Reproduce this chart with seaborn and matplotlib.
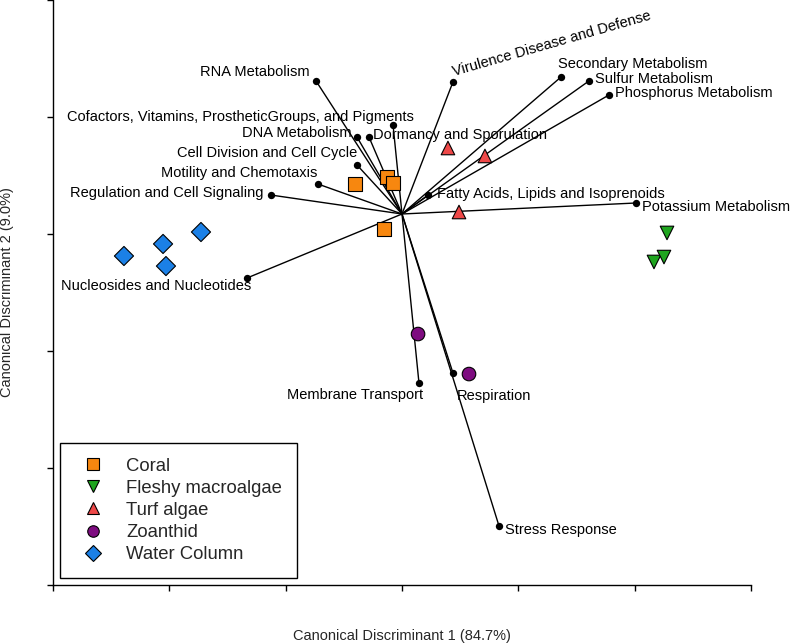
import numpy as np
import pandas as pd
import matplotlib
matplotlib.use("Agg")
import matplotlib.pyplot as plt
import seaborn as sns

# sample scores on the two canonical axes (tick units)
groups = ["Coral", "Fleshy macroalgae", "Turf algae", "Zoanthid", "Water Column"]
coral_x = [-0.404, -0.129, -0.077, -0.155]
coral_y = [0.427, 0.487, 0.436, 0.043]
fleshy_x = [2.278, 2.166, 2.252]
fleshy_y = [0.009, -0.239, -0.197]
turf_x = [0.395, 0.713, 0.490]
turf_y = [0.735, 0.667, 0.188]
zoanthid_x = [0.138, 0.576]
zoanthid_y = [-0.855, -1.197]
water_x = [-2.390, -2.054, -1.728, -2.029]
water_y = [-0.188, -0.085, 0.017, -0.274]

# functional category vectors (tips), all drawn from a common centre
origin = (0.0, 0.171)
categories = [
    "RNA Metabolism",
    "Cofactors, Vitamins, ProstheticGroups, and Pigments",
    "DNA Metabolism",
    "Dormancy and Sporulation",
    "Cell Division and Cell Cycle",
    "Motility and Chemotaxis",
    "Regulation and Cell Signaling",
    "Nucleosides and Nucleotides",
    "Virulence Disease and Defense",
    "Secondary Metabolism",
    "Sulfur Metabolism",
    "Phosphorus Metabolism",
    "Fatty Acids, Lipids and Isoprenoids",
    "Potassium Metabolism",
    "Membrane Transport",
    "Respiration",
    "Stress Response",
]
tip_x = [-0.739, -0.077, -0.387, -0.284, -0.387, -0.722, -1.126, -1.332,
         0.438, 1.367, 1.607, 1.779, 0.224, 2.012, 0.146, 0.438, 0.834]
tip_y = [1.308, 0.932, 0.829, 0.829, 0.590, 0.427, 0.333, -0.376,
         1.299, 1.342, 1.308, 1.188, 0.333, 0.265, -1.274, -1.188, -2.496]

# label placement: (dx px, dy px, ha, rotation)
label_style = [
    (-6, 9, "right", 0), (21, 8, "right", 0), (-5, 4, "right", 0),
    (4, 2, "left", 0), (0, 12, "right", 0), (-1, 11, "right", 0),
    (-8, 2, "right", 0), (4, -8, "right", 0), (2, 3, "left", 16),
    (-3, 13, "left", 0), (6, 2, "left", 0), (6, 2, "left", 0),
    (9, 1, "left", 0), (6, -4, "left", 0), (4, -12, "right", 0),
    (4, -23, "left", 0), (6, -4, "left", 0),
]

palette = {"Coral": "#F7870F", "Fleshy macroalgae": "#1FA51F",
           "Turf algae": "#EE4848", "Zoanthid": "#7E0C80",
           "Water Column": "#1B80E6"}
markers = {"Coral": "s", "Fleshy macroalgae": "v", "Turf algae": "^",
           "Zoanthid": "o", "Water Column": "D"}

scores = pd.concat([
    pd.DataFrame({"x": xs, "y": ys, "group": g})
    for g, xs, ys in zip(groups,
                         [coral_x, fleshy_x, turf_x, zoanthid_x, water_x],
                         [coral_y, fleshy_y, turf_y, zoanthid_y, water_y])
], ignore_index=True)
vectors = pd.DataFrame({"category": categories, "x": tip_x, "y": tip_y})

sns.set_style("ticks")
plt.rcParams["font.family"] = ["Liberation Sans", "DejaVu Sans"]

fig = plt.figure(figsize=(7.92, 6.43), dpi=100)
ax = fig.add_axes([53 / 792, 58 / 643, 698 / 792, 585 / 643])

# vectors
for _, row in vectors.iterrows():
    ax.plot([origin[0], row["x"]], [origin[1], row["y"]], color="black",
            lw=1.0, zorder=2)
sns.scatterplot(data=vectors, x="x", y="y", color="black", s=28,
                edgecolor="black", linewidth=0, ax=ax, zorder=3, legend=False)
for (_, row), (dx, dy, ha, rot) in zip(vectors.iterrows(), label_style):
    ax.annotate(row["category"], (row["x"], row["y"]), xytext=(dx, dy),
                textcoords="offset pixels", ha=ha,
                va="bottom" if rot else "center", rotation=rot,
                rotation_mode="anchor", fontsize=10.5, color="black")

# samples
sns.scatterplot(data=scores, x="x", y="y", hue="group", style="group",
                hue_order=groups, style_order=groups, palette=palette,
                markers=markers, s=95, edgecolor="black", linewidth=0.8,
                ax=ax, zorder=4)

handles, labels = ax.get_legend_handles_labels()
ax.legend(handles, labels, loc="lower left", bbox_to_anchor=(0.010, 0.012),
          borderaxespad=0, frameon=True, fancybox=False, edgecolor="black",
          framealpha=1, fontsize=13.3, markerscale=0.85, borderpad=0.8,
          labelspacing=0.28, handletextpad=0.8, handlelength=2.0)
ax.get_legend().get_frame().set_linewidth(1.0)

ax.set_xlim(-3, 3)
ax.set_ylim(-3, 2)
ax.set_xticks(np.arange(-3, 4, 1))
ax.set_yticks(np.arange(-3, 3, 1))
ax.tick_params(labelbottom=False, labelleft=False, length=4.5, width=1.0,
               direction="out", color="black")
sns.despine(ax=ax)
for side in ["left", "bottom"]:
    ax.spines[side].set_linewidth(1.0)
    ax.spines[side].set_color("black")

ax.set_xlabel("Canonical Discriminant 1 (84.7%)", fontsize=10.5)
ax.set_ylabel("Canonical Discriminant 2 (9.0%)", fontsize=10.5)
ax.xaxis.label.set_va("center")
ax.yaxis.label.set_va("center")
ax.xaxis.set_label_coords(0.5, -0.087)
ax.yaxis.set_label_coords(-0.066, 0.5)

fig.savefig("out.png", dpi=100)
